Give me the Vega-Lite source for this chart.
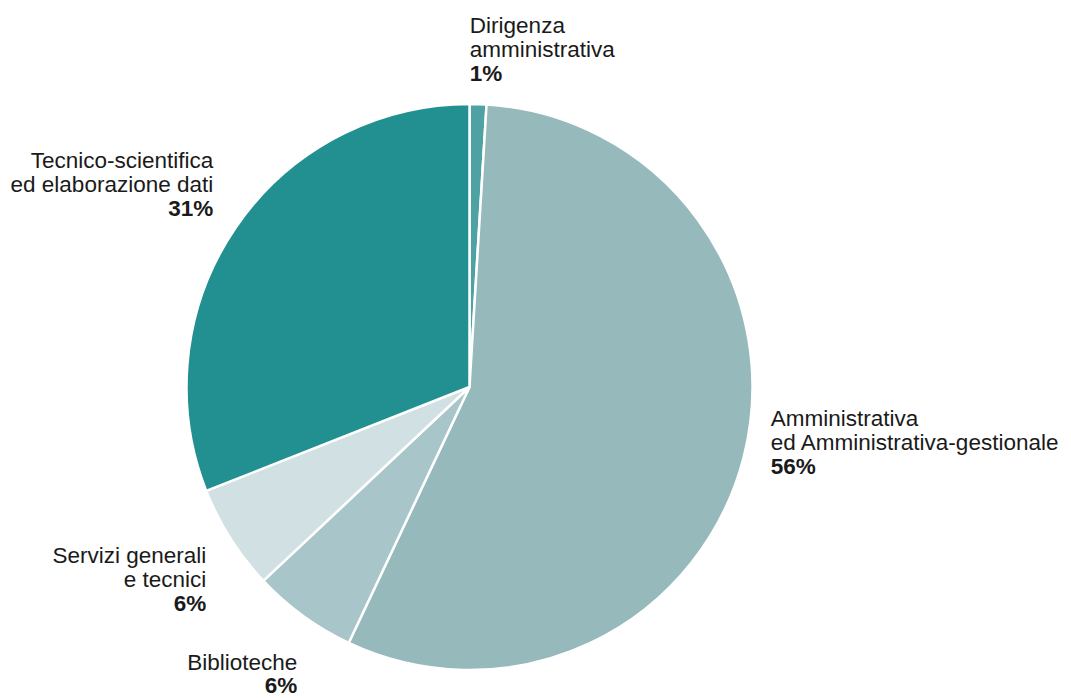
{
  "$schema": "https://vega.github.io/schema/vega-lite/v6.json",
  "autosize": "none",
  "width": 939,
  "height": 622,
  "padding": {"left": 0, "top": 76, "right": 132, "bottom": 0},
  "background": "white",
  "config": {"view": {"stroke": null}},
  "data": {
    "values": [
      {"ord": 1, "cat": "Dirigenza", "label": "Dirigenza\namministrativa", "value": 0.0096},
      {"ord": 2, "cat": "Amministrativa", "label": "Amministrativa\ned Amministrativa-gestionale", "value": 0.5606},
      {"ord": 3, "cat": "Biblioteche", "label": "Biblioteche", "value": 0.0597},
      {"ord": 4, "cat": "Servizi", "label": "Servizi generali\ne tecnici", "value": 0.0603},
      {"ord": 5, "cat": "Tecnico", "label": "Tecnico-scientifica\ned elaborazione dati", "value": 0.3098}
    ]
  },
  "encoding": {
    "theta": {"field": "value", "type": "quantitative", "stack": true},
    "order": {"field": "ord", "type": "quantitative"}
  },
  "layer": [
    {
      "mark": {"type": "arc", "outerRadius": 283, "stroke": "white", "strokeWidth": 2.5},
      "encoding": {
        "color": {
          "field": "cat", "type": "nominal", "legend": null,
          "scale": {
            "domain": ["Dirigenza", "Amministrativa", "Biblioteche", "Servizi", "Tecnico"],
            "range": ["#4ea2a4", "#96b9bc", "#a8c5c9", "#d1e0e2", "#228f91"]
          }
        }
      }
    },
    {
      "mark": {"type": "text", "radius": 310, "align": "left", "baseline": "alphabetic", "dx": -9, "dy": -44, "font": "Liberation Sans", "fontSize": 22.5, "lineBreak": "\n", "lineHeight": 24, "color": "#1a1a1a"},
      "encoding": {"text": {"condition": {"test": "datum.cat === 'Dirigenza'", "field": "label"}, "value": ""}}
    },
    {
      "mark": {"type": "text", "radius": 310, "align": "left", "baseline": "alphabetic", "dx": -9, "dy": 4, "font": "Liberation Sans", "fontSize": 22.5, "fontWeight": "bold", "color": "#1a1a1a"},
      "encoding": {"text": {"condition": {"test": "datum.cat === 'Dirigenza'", "field": "value", "type": "quantitative", "format": ".0%"}, "value": ""}}
    },
    {
      "mark": {"type": "text", "radius": 310, "align": "left", "baseline": "alphabetic", "dx": 1, "dy": -38, "font": "Liberation Sans", "fontSize": 22.5, "lineBreak": "\n", "lineHeight": 24, "color": "#1a1a1a"},
      "encoding": {"text": {"condition": {"test": "datum.cat === 'Amministrativa'", "field": "label"}, "value": ""}}
    },
    {
      "mark": {"type": "text", "radius": 310, "align": "left", "baseline": "alphabetic", "dx": 1, "dy": 10, "font": "Liberation Sans", "fontSize": 22.5, "fontWeight": "bold", "color": "#1a1a1a"},
      "encoding": {"text": {"condition": {"test": "datum.cat === 'Amministrativa'", "field": "value", "type": "quantitative", "format": ".0%"}, "value": ""}}
    },
    {
      "mark": {"type": "text", "radius": 310, "align": "right", "baseline": "alphabetic", "dx": 10, "dy": 32, "font": "Liberation Sans", "fontSize": 22.5, "lineBreak": "\n", "lineHeight": 24, "color": "#1a1a1a"},
      "encoding": {"text": {"condition": {"test": "datum.cat === 'Biblioteche'", "field": "label"}, "value": ""}}
    },
    {
      "mark": {"type": "text", "radius": 310, "align": "right", "baseline": "alphabetic", "dx": 10, "dy": 55, "font": "Liberation Sans", "fontSize": 22.5, "fontWeight": "bold", "color": "#1a1a1a"},
      "encoding": {"text": {"condition": {"test": "datum.cat === 'Biblioteche'", "field": "value", "type": "quantitative", "format": ".0%"}, "value": ""}}
    },
    {
      "mark": {"type": "text", "radius": 310, "align": "right", "baseline": "alphabetic", "dx": -1.5, "dy": 10, "font": "Liberation Sans", "fontSize": 22.5, "lineBreak": "\n", "lineHeight": 24, "color": "#1a1a1a"},
      "encoding": {"text": {"condition": {"test": "datum.cat === 'Servizi'", "field": "label"}, "value": ""}}
    },
    {
      "mark": {"type": "text", "radius": 310, "align": "right", "baseline": "alphabetic", "dx": -1.5, "dy": 58, "font": "Liberation Sans", "fontSize": 22.5, "fontWeight": "bold", "color": "#1a1a1a"},
      "encoding": {"text": {"condition": {"test": "datum.cat === 'Servizi'", "field": "value", "type": "quantitative", "format": ".0%"}, "value": ""}}
    },
    {
      "mark": {"type": "text", "radius": 310, "align": "right", "baseline": "alphabetic", "dx": 0, "dy": -45, "font": "Liberation Sans", "fontSize": 22.5, "lineBreak": "\n", "lineHeight": 24, "color": "#1a1a1a"},
      "encoding": {"text": {"condition": {"test": "datum.cat === 'Tecnico'", "field": "label"}, "value": ""}}
    },
    {
      "mark": {"type": "text", "radius": 310, "align": "right", "baseline": "alphabetic", "dx": 0, "dy": 3, "font": "Liberation Sans", "fontSize": 22.5, "fontWeight": "bold", "color": "#1a1a1a"},
      "encoding": {"text": {"condition": {"test": "datum.cat === 'Tecnico'", "field": "value", "type": "quantitative", "format": ".0%"}, "value": ""}}
    }
  ]
}
